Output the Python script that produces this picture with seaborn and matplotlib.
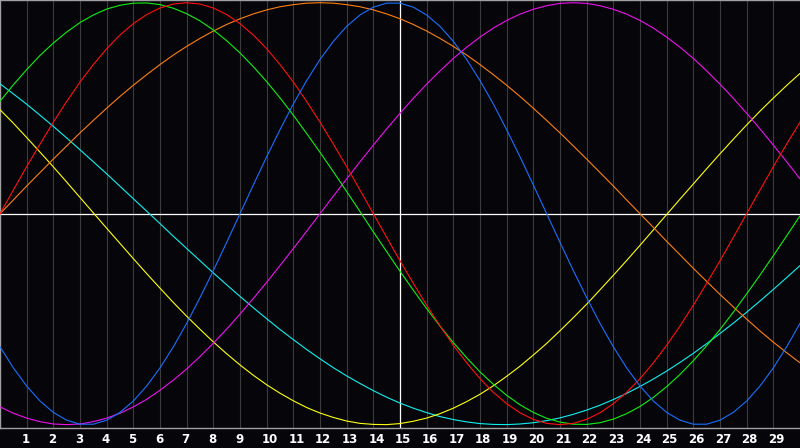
import numpy as np
import pandas as pd
import matplotlib
matplotlib.use("Agg")
import matplotlib.pyplot as plt
import matplotlib.transforms as mtransforms
import seaborn as sns

# half-day steps from day 0 to day 30, labels only for 1 .. 29
days = np.arange(0, 30.5, 0.5)
day_labels = [str(d) for d in range(1, 30)]
today = 15

# values, two per day
red = [0.000, 0.112, 0.223, 0.330, 0.434, 0.532, 0.624, 0.707, 0.782, 0.847,
       0.901, 0.944, 0.975, 0.994, 1.000, 0.994, 0.975, 0.944, 0.901, 0.847,
       0.782, 0.707, 0.624, 0.532, 0.434, 0.330, 0.223, 0.112, 0.000, -0.112,
       -0.223, -0.330, -0.434, -0.532, -0.624, -0.707, -0.782, -0.847, -0.901, -0.944,
       -0.975, -0.994, -1.000, -0.994, -0.975, -0.944, -0.901, -0.847, -0.782, -0.707,
       -0.624, -0.532, -0.434, -0.330, -0.223, -0.112, 0.000, 0.112, 0.223, 0.330,
       0.434]
green = [0.533, 0.611, 0.683, 0.750, 0.809, 0.861, 0.906, 0.942, 0.970, 0.988,
         0.998, 0.999, 0.991, 0.974, 0.948, 0.914, 0.871, 0.820, 0.762, 0.697,
         0.626, 0.549, 0.467, 0.380, 0.291, 0.199, 0.105, 0.010, -0.086, -0.180,
         -0.273, -0.363, -0.450, -0.533, -0.611, -0.683, -0.750, -0.809, -0.861, -0.906,
         -0.942, -0.970, -0.988, -0.998, -0.999, -0.991, -0.974, -0.948, -0.914, -0.871,
         -0.820, -0.762, -0.697, -0.626, -0.549, -0.467, -0.380, -0.291, -0.199, -0.105,
         -0.010]
blue = [-0.631, -0.731, -0.817, -0.888, -0.942, -0.979, -0.998, -0.998, -0.979, -0.942,
        -0.888, -0.817, -0.731, -0.631, -0.520, -0.398, -0.270, -0.136, 0.000, 0.136,
        0.270, 0.398, 0.520, 0.631, 0.731, 0.817, 0.888, 0.942, 0.979, 0.998,
        0.998, 0.979, 0.942, 0.888, 0.817, 0.731, 0.631, 0.520, 0.398, 0.270,
        0.136, 0.000, -0.136, -0.270, -0.398, -0.520, -0.631, -0.731, -0.817, -0.888,
        -0.942, -0.979, -0.998, -0.998, -0.979, -0.942, -0.888, -0.817, -0.731, -0.631,
        -0.520]
orange = [0.000, 0.065, 0.131, 0.195, 0.259, 0.321, 0.383, 0.442, 0.500, 0.556,
          0.609, 0.659, 0.707, 0.752, 0.793, 0.831, 0.866, 0.897, 0.924, 0.947,
          0.966, 0.981, 0.991, 0.998, 1.000, 0.998, 0.991, 0.981, 0.966, 0.947,
          0.924, 0.897, 0.866, 0.831, 0.793, 0.752, 0.707, 0.659, 0.609, 0.556,
          0.500, 0.442, 0.383, 0.321, 0.259, 0.195, 0.131, 0.065, 0.000, -0.065,
          -0.131, -0.195, -0.259, -0.321, -0.383, -0.442, -0.500, -0.556, -0.609, -0.659,
          -0.707]
magenta = [-0.916, -0.946, -0.969, -0.986, -0.997, -1.000, -0.997, -0.986, -0.969, -0.946,
           -0.916, -0.880, -0.837, -0.789, -0.736, -0.677, -0.614, -0.547, -0.476, -0.402,
           -0.325, -0.246, -0.165, -0.083, 0.000, 0.083, 0.165, 0.246, 0.325, 0.402,
           0.476, 0.547, 0.614, 0.677, 0.736, 0.789, 0.837, 0.880, 0.916, 0.946,
           0.969, 0.986, 0.997, 1.000, 0.997, 0.986, 0.969, 0.946, 0.916, 0.880,
           0.837, 0.789, 0.736, 0.677, 0.614, 0.547, 0.476, 0.402, 0.325, 0.246,
           0.165]
yellow = [0.493, 0.429, 0.361, 0.292, 0.222, 0.150, 0.077, 0.004, -0.069, -0.141,
          -0.213, -0.284, -0.353, -0.421, -0.486, -0.548, -0.608, -0.664, -0.717, -0.766,
          -0.811, -0.851, -0.887, -0.919, -0.945, -0.966, -0.983, -0.994, -0.999, -1.000,
          -0.995, -0.984, -0.969, -0.948, -0.922, -0.891, -0.856, -0.816, -0.771, -0.723,
          -0.670, -0.615, -0.555, -0.493, -0.429, -0.361, -0.292, -0.222, -0.150, -0.077,
          -0.004, 0.069, 0.141, 0.213, 0.284, 0.353, 0.421, 0.486, 0.548, 0.608,
          0.665]
cyan = [0.616, 0.568, 0.519, 0.467, 0.414, 0.359, 0.303, 0.246, 0.189, 0.130,
        0.071, 0.012, -0.047, -0.107, -0.165, -0.223, -0.281, -0.337, -0.392, -0.446,
        -0.498, -0.549, -0.597, -0.644, -0.688, -0.730, -0.769, -0.805, -0.839, -0.870,
        -0.898, -0.922, -0.943, -0.962, -0.976, -0.987, -0.995, -0.999, -1.000, -0.997,
        -0.991, -0.981, -0.968, -0.951, -0.931, -0.908, -0.881, -0.852, -0.819, -0.784,
        -0.746, -0.705, -0.662, -0.616, -0.568, -0.519, -0.467, -0.414, -0.359, -0.303,
        -0.246]

series = {
    "cyan": cyan,
    "yellow": yellow,
    "orange": orange,
    "magenta": magenta,
    "green": green,
    "red": red,
    "blue": blue,
}
colors = {
    "cyan": "#10f0f0",
    "yellow": "#ffff10",
    "orange": "#ff8010",
    "magenta": "#f010f0",
    "green": "#10f010",
    "red": "#ff1010",
    "blue": "#1a70ff",
}

df = pd.concat(
    [pd.DataFrame({"day": days, "value": v, "cycle": k}) for k, v in series.items()],
    ignore_index=True,
)

bg = "#05050a"
sns.set_style("dark", {"axes.facecolor": bg, "figure.facecolor": bg})
plt.rcParams["font.family"] = ["DejaVu Sans"]

fig = plt.figure(figsize=(8, 4.48), dpi=100)
ax = fig.add_axes([0, 20 / 448, 1, 428 / 448])
ax.set_facecolor(bg)

for d in range(1, 30):
    ax.axvline(d, color="#3c3c3c", lw=0.8, zorder=1)
ax.axvline(today, color="white", lw=0.9, zorder=2)
ax.axhline(0, color="white", lw=0.9, zorder=2)

sns.lineplot(data=df, x="day", y="value", hue="cycle", palette=colors,
             hue_order=list(series.keys()), estimator=None, sort=False,
             linewidth=0.8, legend=False, ax=ax, zorder=3)

ax.set_xlim(0, 30)
ax.set_ylim(-1.016, 1.013)
ax.set_xticks([])
ax.set_yticks([])
ax.set_xlabel("")
ax.set_ylabel("")
ax.grid(False)
for side in ["left", "top", "bottom"]:
    ax.spines[side].set_visible(True)
    ax.spines[side].set_color("#a0a0a0")
    ax.spines[side].set_linewidth(1.0)
ax.spines["right"].set_visible(False)

trans = mtransforms.blended_transform_factory(ax.transData, fig.transFigure)
for d, lab in zip(range(1, 30), day_labels):
    ax.text(d - 0.19, 9 / 448, lab, transform=trans, ha="left", va="center",
            color="white", fontsize=8.5, fontweight="bold", clip_on=False)

fig.savefig("out.png", dpi=100, facecolor=bg)
